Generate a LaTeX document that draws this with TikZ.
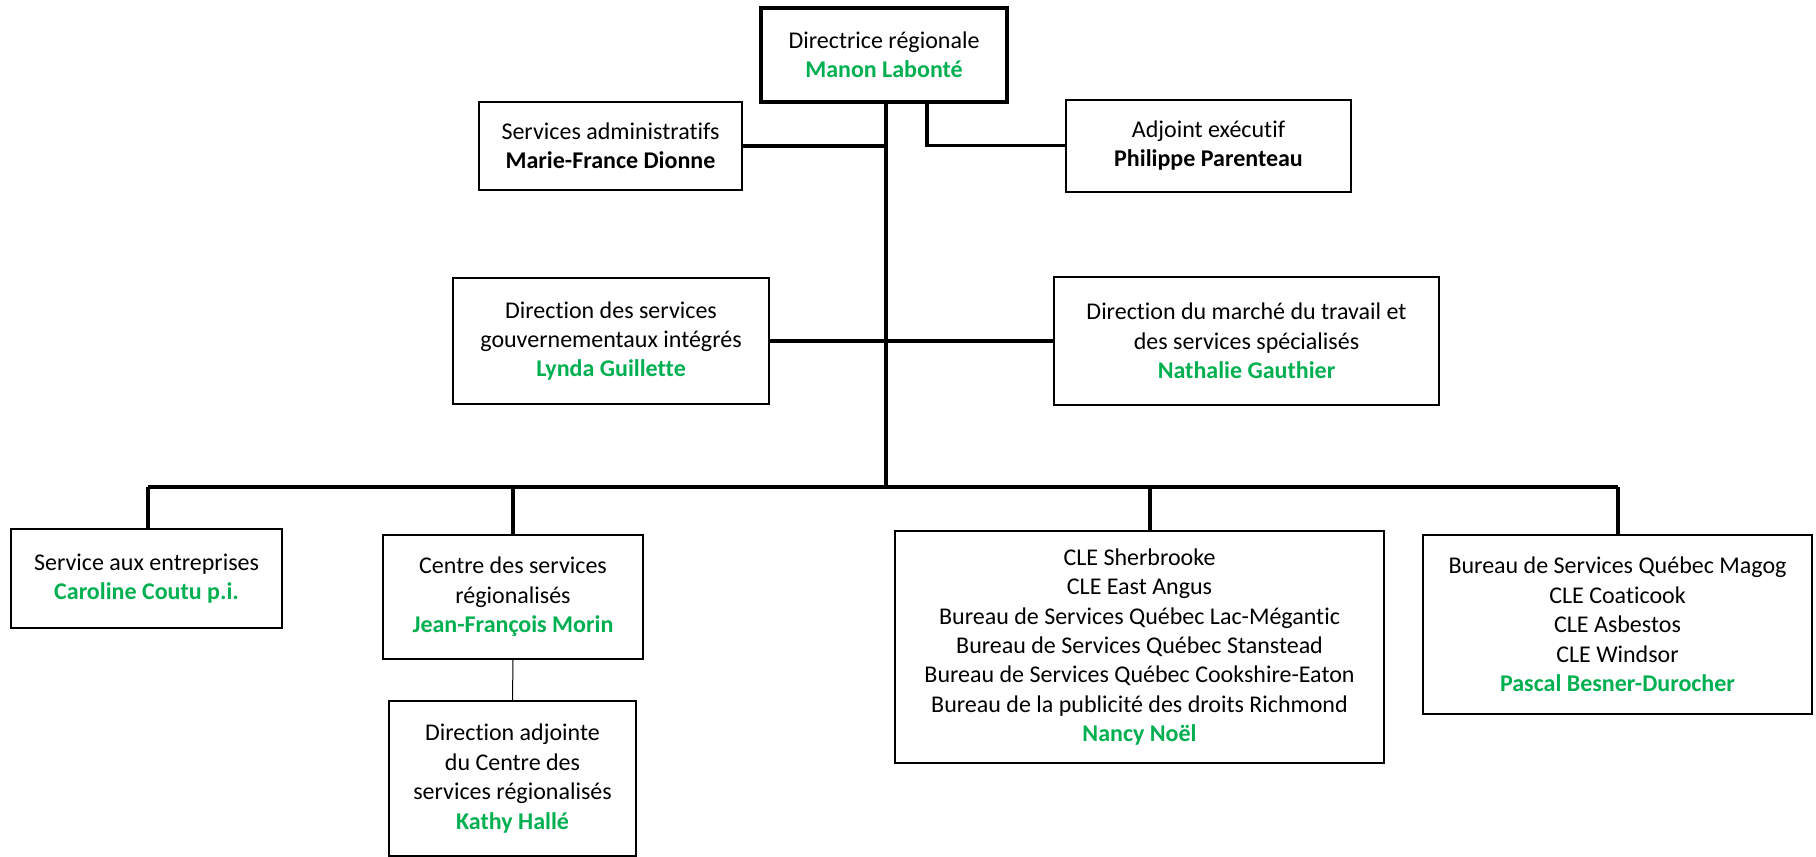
\documentclass[tikz,border=0pt]{standalone}
\usepackage{fontspec}
\setmainfont{Carlito}[Ligatures=NoCommon]
\usepackage{tikz}
\definecolor{vertnom}{RGB}{0,176,80}
\newcommand\nomvert[1]{{\bfseries\color{vertnom}#1}}
\tikzset{
  boite/.style 2 args={draw, line width=1pt, align=center, inner sep=0pt,
    font=\fontsize{12}{14.7}\selectfont,
    minimum width=#1*0.5pt, minimum height=#2*0.5pt},
  lien/.style={line width=1.6pt}
}

\begin{document}
\begin{tikzpicture}[x=0.5pt,y=-0.5pt]
\useasboundingbox (0,0) rectangle (1816,857);
%\draw[help lines] (0,0) grid[step=100] (1816,857);
\node[boite={246}{94}, line width=2pt] (dir) at (884,55) {Directrice régionale\\\nomvert{Manon Labonté}};
\node[boite={263}{88}] (sa) at (610.5,146) {Services administratifs\\\textbf{Marie-France Dionne}};
\node[boite={285}{92}] (adj) at (1208.5,145.5) {Adjoint exécutif\\\textbf{Philippe Parenteau}};
\node[boite={316}{126}] (dsgi) at (611,341) {Direction des services\\gouvernementaux intégrés\\\nomvert{Lynda Guillette}};
\node[boite={385}{128}] (dmt) at (1246.5,341) {Direction du marché du travail et\\des services spécialisés\\\nomvert{Nathalie Gauthier}};
\node[boite={271}{99}] (sae) at (146.5,578.5) {Service aux entreprises\\\nomvert{Caroline Coutu p.i.}};
\node[boite={260}{124}] (csr) at (513,597) {Centre des services\\régionalisés\\\nomvert{Jean-François Morin}};
\node[boite={247}{155}] (dacsr) at (512.5,778.5) {Direction adjointe\\du Centre des\\services régionalisés\\\nomvert{Kathy Hallé}};
\node[boite={489}{232}] (cle) at (1139.5,647) {CLE Sherbrooke\\CLE East Angus\\Bureau de Services Québec Lac-Mégantic\\Bureau de Services Québec Stanstead\\Bureau de Services Québec Cookshire-Eaton\\Bureau de la publicité des droits Richmond\\\nomvert{Nancy Noël}};
\node[boite={389}{179}] (bsq) at (1617.5,624.5) {Bureau de Services Québec Magog\\CLE Coaticook\\CLE Asbestos\\CLE Windsor\\\nomvert{Pascal Besner-Durocher}};

\coordinate (bus) at (886,487);
\coordinate (tapadj) at (927,102);
\draw[lien] (dir.south -| bus) -- (bus);
\draw[lien] (sa.east) -- (sa.east -| bus);
\draw[lien] (tapadj) |- (adj.west);
\draw[lien] (dsgi.east) -- (dmt.west);
\foreach \n/\x in {sae/148,csr/513,cle/1150,bsq/1618}{
  \coordinate (d\n) at (\x,487);
  \draw[lien] (d\n) -- (d\n |- \n.north);
}
\draw[lien] (dsae) -- (dbsq);
\draw[line width=0.5pt] (csr.south) -- (dacsr.north);
\end{tikzpicture}
\end{document}
